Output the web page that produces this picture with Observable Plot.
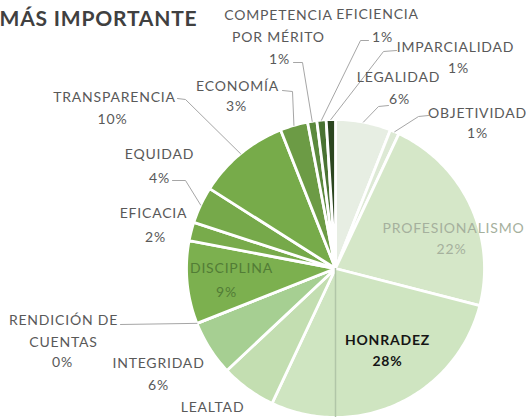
<!DOCTYPE html>
<html><head><meta charset="utf-8">
<script src="https://cdn.jsdelivr.net/npm/d3@7"></script>
<script src="https://cdn.jsdelivr.net/npm/@observablehq/plot@0.6"></script>
<style>
body{margin:0;background:#fff;}
#chart{width:526px;height:417px;overflow:hidden;}
</style>
</head><body><div id="chart"></div>
<script>
// ---- data ----
const titleText = "MÁS IMPORTANTE";
const categories = ["LEGALIDAD","OBJETIVIDAD","PROFESIONALISMO","HONRADEZ","LEALTAD","INTEGRIDAD",
  "RENDICIÓN DE\nCUENTAS","DISCIPLINA","EFICACIA","EQUIDAD","TRANSPARENCIA","ECONOMÍA",
  "COMPETENCIA\nPOR MÉRITO","EFICIENCIA","IMPARCIALIDAD"];
const values = [6,1,22,28,6,6,0,9,2,4,10,3,1,1,1];
const sliceColors = ["#e7eee3","#dde9d5","#d5e7c8","#cfe5c1","#c3deb1","#a6cf92",
  "#8fc27a","#7cb04f","#78ab4b","#76a94a","#77ab4a","#6c9b45","#5b893d","#4a7333","#2c4620"];

// ---- layout (pixel anchors of labels, converted to the chart's unit coordinates) ----
const cx = 335, cy = 268, R = 149;
const toX = px => (px - cx) / R, toY = py => (cy - py) / R;
const labelLayout = [
  {name:[398,77],  pct:[399,99],  lead:[[388,105],[378,106]]},
  {name:[477,113], pct:[477,133], lead:[[428,115],[418,116]]},
  {name:[453,228], pct:[451,249], color:"#a5b09d"},
  {name:[387,340], pct:[387,361], color:"#151515", bold:true},
  {name:[212,407], pct:null},
  {name:[158,363], pct:[158,385]},
  {name:[63,320],  pct:[62,362],  lead:[[120,324]]},
  {name:[231,268], pct:[226,292], color:"#527c36"},
  {name:[153,213], pct:[155,237]},
  {name:[159,154], pct:[159,178], lead:[[172,180],[185,180]]},
  {name:[114,97],  pct:[112,119], lead:[[177,98],[185,99]]},
  {name:[237,86],  pct:[236,106], lead:[[282,90],[292,91]]},
  {name:[278,15],  pct:[279,59],  lead:[[293,62],[302,62]]},
  {name:[377,14],  pct:[382,37],  lead:[[368,40],[360,40]]},
  {name:[455,47],  pct:[458,68],  lead:[[396,50],[383,51]]}
];

// ---- build ----
const rows = categories.map((c, i) => ({name: c, value: values[i], color: sliceColors[i], i}));
const arcs = d3.pie().sort(null).value(d => d.value).startAngle(0).endAngle(2 * Math.PI)(rows);

const sliceMarks = arcs.map(a => {
  const pts = [{x: 0, y: 0}];
  const n = Math.max(2, Math.ceil((a.endAngle - a.startAngle) / (Math.PI / 180)));
  for (let k = 0; k <= n; k++) {
    const t = a.startAngle + (a.endAngle - a.startAngle) * k / n;
    pts.push({x: Math.sin(t), y: Math.cos(t)});
  }
  return Plot.line(pts, {x: "x", y: "y", fill: a.data.color, stroke: "white",
    strokeWidth: 2.8, strokeLinejoin: "round", curve: "linear-closed"});
});

const leaderPts = [];
const textRows = [];
arcs.forEach((a, i) => {
  const L = labelLayout[i];
  const mid = (a.startAngle + a.endAngle) / 2;
  if (L.lead) {
    L.lead.forEach(p => leaderPts.push({id: i, x: toX(p[0]), y: toY(p[1])}));
    leaderPts.push({id: i, x: Math.sin(mid), y: Math.cos(mid)});
  }
  const lines = a.data.name.split("\n");
  lines.forEach((ln, j) => textRows.push({x: toX(L.name[0]), y: toY(L.name[1] + j * 22), text: ln,
    color: L.color || "#595959", bold: !!L.bold}));
  if (L.pct) textRows.push({x: toX(L.pct[0]), y: toY(L.pct[1]), text: a.data.value + "%",
    color: L.color || "#595959", bold: !!L.bold});
});

const chart = Plot.plot({
  width: 526, height: 417, margin: 0,
  x: {domain: [-1, 1], range: [cx - R, cx + R], axis: null},
  y: {domain: [-1, 1], range: [cy + R, cy - R], axis: null},
  style: {fontFamily: "Lato", letterSpacing: "0.8px", background: "#fff"},
  marks: [
    ...sliceMarks,
    Plot.ruleX([0], {y1: 0, y2: -1, stroke: "#b1c6a8", strokeWidth: 1.5}),
    Plot.line(leaderPts, {x: "x", y: "y", z: "id", stroke: "#a6a6a6", strokeWidth: 1}),
    Plot.text(textRows.filter(d => !d.bold), {x: "x", y: "y", text: "text", fill: "color",
      fontSize: 14, textAnchor: "middle", lineAnchor: "middle"}),
    Plot.text(textRows.filter(d => d.bold), {x: "x", y: "y", text: "text", fill: "color",
      fontSize: 14, fontWeight: "bold", textAnchor: "middle", lineAnchor: "middle"}),
    Plot.text([titleText], {frameAnchor: "top-left", text: d => d, dx: -1, dy: 11,
      fontSize: 21, fontWeight: "bold", fill: "#404040", textAnchor: "start", lineAnchor: "top"})
  ]
});
document.getElementById("chart").appendChild(chart);
</script>
</body></html>
